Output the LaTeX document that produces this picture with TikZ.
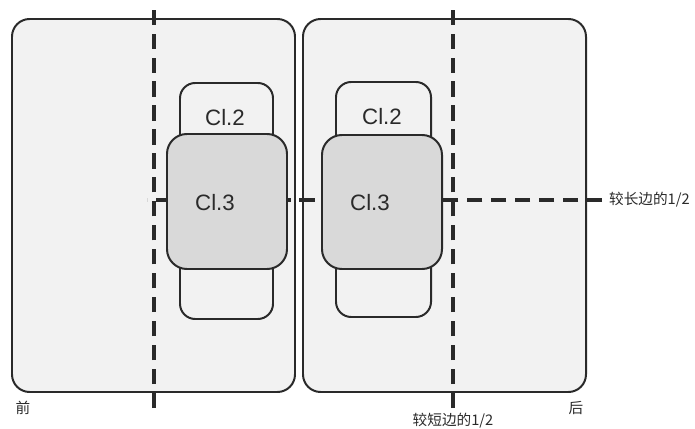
\documentclass[tikz,border=0pt]{standalone}
\usepackage{fontspec}
\usepackage{xcolor}
\newfontfamily\clfont{Liberation Sans}
\newfontfamily\cjk{Noto Sans CJK SC}
\definecolor{vblack}{HTML}{2A2A2A}
\definecolor{vpanel}{HTML}{F2F2F2}
\definecolor{vgray}{HTML}{D9D9D9}

\begin{document}
\begin{tikzpicture}[x=0.03cm, y=-0.03cm,
		cltext/.style = {font=\clfont\fontsize{19}{20}\selectfont, text=vblack},
		cjktext/.style = {font=\cjk\fontsize{12.5}{14}\selectfont, text=vblack},
		halfline/.style = {line width=3.2pt, draw=vblack, dash pattern=on 13pt off 7.44pt}]
		\useasboundingbox (0,0) rectangle (695,429);
		% two panels
		\draw[line width=1.7pt, draw = vblack, fill = vpanel, rounded corners=15pt] (12,19) rectangle (295,392);
		\draw[line width=1.7pt, draw = vblack, fill = vpanel, rounded corners=15pt] (303,19) rectangle (586,392);
		% halving lines
		\coordinate (sTop) at (154,8);
		\coordinate (sBot) at (154,408);
		\coordinate (rTop) at (453,8);
		\coordinate (rBot) at (453,408);
		\coordinate (lStart) at (147,200);
		\coordinate (lEnd) at (602,200);
		\draw[halfline] (sBot) -- (sTop);
		\draw[halfline] (rBot) -- (rTop);
		\draw[halfline] (lEnd) -- (lStart);
		% cl.2 boxes
		\draw[line width=1.7pt, draw = vblack, fill = vpanel, rounded corners=13pt] (180,83) rectangle (273,319);
		\draw[line width=1.7pt, draw = vblack, fill = vpanel, rounded corners=13pt] (336,82) rectangle (431,317);
		% cl.3 boxes
		\draw[line width=1.7pt, draw = vblack, fill = vgray, rounded corners=17pt] (167,134) rectangle (287,269);
		\draw[line width=1.7pt, draw = vblack, fill = vgray, rounded corners=17pt] (322,135) rectangle (442,269);
		% labels
		\node[cltext] (clTwoA) at (225,118) {Cl.2};
		\node[cltext] (clThreeA) at (215,203) {Cl.3};
		\node[cltext] (clTwoB) at (382,117) {Cl.2};
		\node[cltext] (clThreeB) at (370,203) {Cl.3};
		\node[cjktext] (front) at (23,408) {前};
		\node[cjktext] (back) at (576,408) {后};
		\node[cjktext] (shortHalf) at (453,421) {较短边的1/2};
		\node[cjktext, anchor=west] (longHalf) at (605,200) {较长边的1/2};
	\end{tikzpicture}
\end{document}
